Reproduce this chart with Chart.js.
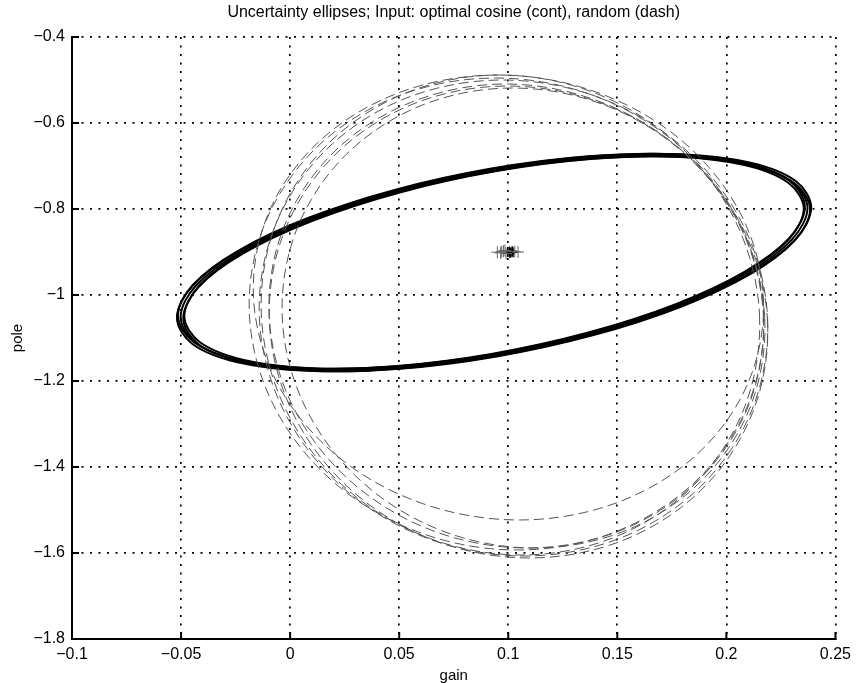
<!DOCTYPE html>
<html lang="en">
<head>
<meta charset="utf-8">
<title>Uncertainty ellipses</title>
<script src="https://cdn.jsdelivr.net/npm/chart.js@4.4.1/dist/chart.umd.min.js"></script>
<style>
    html, body { margin: 0; padding: 0; background: #fff; }
    .graph-container { position: relative; width: 857px; height: 683px; }
</style>
</head>
<body>
<div class="graph-container"><canvas id="graph-ellipses"></canvas></div>
<script>
// Graduations des axes
const xTickValues = [-0.1, -0.05, 0, 0.05, 0.1, 0.15, 0.2, 0.25];
const xTickLabels = ['\u22120.1', '\u22120.05', '0', '0.05', '0.1', '0.15', '0.2', '0.25'];
const yTickValues = [-1.8, -1.6, -1.4, -1.2, -1, -0.8, -0.6, -0.4];
const yTickLabels = ['\u22121.8', '\u22121.6', '\u22121.4', '\u22121.2', '\u22121', '\u22120.8', '\u22120.6', '\u22120.4'];

// Ellipses, entrée cosinus optimale (trait continu) : points [gain, pole]
// (courbes fermées : le dernier point rejoint le premier)
const ellipseOptimaleA = [
    [0.0935, -0.7088], [0.0491, -0.7585], [0.0091, -0.8245], [-0.0227, -0.9002], [-0.0432, -0.9784],
    [-0.0502, -1.0512], [-0.0432, -1.1116], [-0.0227, -1.1537], [0.0091, -1.1733], [0.0491, -1.1686],
    [0.0935, -1.1400], [0.1379, -1.0903], [0.1780, -1.0243], [0.2097, -0.9486], [0.2301, -0.8705],
    [0.2372, -0.7977], [0.2301, -0.7373], [0.2097, -0.6952], [0.1780, -0.6755], [0.1379, -0.6802]
];
const ellipseOptimaleB = [
    [0.0935, -0.7063], [0.0486, -0.7566], [0.0080, -0.8233], [-0.0241, -0.8999], [-0.0448, -0.9790],
    [-0.0519, -1.0527], [-0.0448, -1.1138], [-0.0241, -1.1564], [0.0080, -1.1763], [0.0486, -1.1716],
    [0.0935, -1.1426], [0.1384, -1.0923], [0.1790, -1.0255], [0.2111, -0.9489], [0.2318, -0.8698],
    [0.2389, -0.7962], [0.2318, -0.7350], [0.2111, -0.6924], [0.1790, -0.6725], [0.1384, -0.6773]
];
const ellipseOptimaleC = [
    [0.0935, -0.7114], [0.0496, -0.7605], [0.0101, -0.8257], [-0.0213, -0.9005], [-0.0415, -0.9777],
    [-0.0485, -1.0496], [-0.0415, -1.1093], [-0.0213, -1.1509], [0.0101, -1.1703], [0.0496, -1.1657],
    [0.0935, -1.1374], [0.1374, -1.0883], [0.1769, -1.0231], [0.2083, -0.9483], [0.2285, -0.8711],
    [0.2355, -0.7992], [0.2285, -0.7395], [0.2083, -0.6979], [0.1769, -0.6785], [0.1374, -0.6832]
];
const ellipseOptimaleD = [
    [0.0947, -0.7118], [0.0503, -0.7615], [0.0103, -0.8275], [-0.0215, -0.9032], [-0.0420, -0.9814],
    [-0.0490, -1.0542], [-0.0420, -1.1146], [-0.0215, -1.1567], [0.0103, -1.1763], [0.0503, -1.1716],
    [0.0947, -1.1430], [0.1391, -1.0933], [0.1792, -1.0273], [0.2109, -0.9516], [0.2313, -0.8735],
    [0.2384, -0.8007], [0.2313, -0.7403], [0.2109, -0.6982], [0.1792, -0.6785], [0.1391, -0.6832]
];
const ellipseOptimaleE = [
    [0.0923, -0.7058], [0.0479, -0.7555], [0.0079, -0.8215], [-0.0239, -0.8972], [-0.0444, -0.9754],
    [-0.0514, -1.0482], [-0.0444, -1.1086], [-0.0239, -1.1507], [0.0079, -1.1703], [0.0479, -1.1656],
    [0.0923, -1.1370], [0.1367, -1.0873], [0.1768, -1.0213], [0.2085, -0.9456], [0.2289, -0.8675],
    [0.2360, -0.7947], [0.2289, -0.7343], [0.2085, -0.6922], [0.1768, -0.6725], [0.1367, -0.6772]
];

// Ellipses, entrée aléatoire (tirets)
const ellipseAleatoire1 = [
    [0.2170, -1.0058], [0.2100, -1.2038], [0.1863, -1.3717], [0.1494, -1.4838], [0.1051, -1.5232],
    [0.0600, -1.4838], [0.0209, -1.3717], [-0.0060, -1.2038], [-0.0168, -1.0058], [-0.0098, -0.8078],
    [0.0139, -0.6399], [0.0508, -0.5278], [0.0951, -0.4884], [0.1402, -0.5278], [0.1793, -0.6399],
    [0.2062, -0.8078]
];
const ellipseAleatoire2 = [
    [0.2152, -1.0465], [0.2084, -1.2601], [0.1853, -1.4411], [0.1493, -1.5621], [0.1060, -1.6046],
    [0.0619, -1.5621], [0.0237, -1.4411], [-0.0026, -1.2601], [-0.0132, -1.0465], [-0.0064, -0.8329],
    [0.0167, -0.6519], [0.0527, -0.5309], [0.0960, -0.4884], [0.1401, -0.5309], [0.1783, -0.6519],
    [0.2046, -0.8329]
];
const ellipseAleatoire3 = [
    [0.2189, -1.0535], [0.2119, -1.2653], [0.1883, -1.4449], [0.1516, -1.5649], [0.1074, -1.6070],
    [0.0624, -1.5649], [0.0235, -1.4449], [-0.0033, -1.2653], [-0.0141, -1.0535], [-0.0071, -0.8417],
    [0.0165, -0.6621], [0.0532, -0.5421], [0.0974, -0.5000], [0.1424, -0.5421], [0.1813, -0.6621],
    [0.2081, -0.8417]
];
const ellipseAleatoire4 = [
    [0.2189, -1.0628], [0.2121, -1.2728], [0.1890, -1.4509], [0.1530, -1.5698], [0.1097, -1.6116],
    [0.0656, -1.5698], [0.0274, -1.4509], [0.0011, -1.2728], [-0.0095, -1.0628], [-0.0027, -0.8528],
    [0.0204, -0.6747], [0.0564, -0.5558], [0.0997, -0.5140], [0.1438, -0.5558], [0.1820, -0.6747],
    [0.2083, -0.8528]
];
const ellipseAleatoire5 = [
    [0.2176, -1.0535], [0.2111, -1.2582], [0.1887, -1.4317], [0.1539, -1.5477], [0.1120, -1.5884],
    [0.0693, -1.5477], [0.0323, -1.4317], [0.0067, -1.2582], [-0.0036, -1.0535], [0.0029, -0.8488],
    [0.0253, -0.6753], [0.0601, -0.5593], [0.1020, -0.5186], [0.1447, -0.5593], [0.1817, -0.6753],
    [0.2073, -0.8488]
];
const ellipseAleatoire6 = [
    [0.2171, -1.0442], [0.2100, -1.2542], [0.1861, -1.4323], [0.1489, -1.5512], [0.1042, -1.5930],
    [0.0587, -1.5512], [0.0193, -1.4323], [-0.0078, -1.2542], [-0.0187, -1.0442], [-0.0116, -0.8342],
    [0.0123, -0.6561], [0.0495, -0.5372], [0.0942, -0.4954], [0.1397, -0.5372], [0.1791, -0.6561],
    [0.2062, -0.8342]
];
const ellipseAleatoire7 = [
    [0.2170, -1.0488], [0.2103, -1.2553], [0.1873, -1.4303], [0.1517, -1.5472], [0.1087, -1.5883],
    [0.0649, -1.5472], [0.0271, -1.4303], [0.0009, -1.2553], [-0.0096, -1.0488], [-0.0029, -0.8423],
    [0.0201, -0.6673], [0.0557, -0.5514], [0.0987, -0.5093], [0.1425, -0.5514], [0.1803, -0.6673],
    [0.2065, -0.8423]
];

// Estimations (croix) autour du vrai paramètre
const estimationsOptimales = [
    [0.1005, -0.8990], [0.1012, -0.9010], [0.0998, -0.9000], [0.1018, -0.8985], [0.1008, -0.9025], [0.1022, -0.9005]
];
const estimationsAleatoires = [
    [0.0950, -0.9005], [0.0965, -0.9020], [0.0978, -0.8980], [0.0990, -0.9035],
    [0.1030, -0.8990], [0.1045, -0.9000], [0.0985, -0.8965], [0.0970, -0.8995]
];

const policeTexte = "'Liberation Sans', Arial, Helvetica, sans-serif";

// Petits traits de graduation tournés vers l'intérieur, comme dans la figure d'origine
const graduationsInterieures = {
    id: 'graduationsInterieures',
    afterDraw(chart) {
        const { ctx, chartArea, scales } = chart;
        ctx.save();
        ctx.strokeStyle = '#000';
        ctx.lineWidth = 2;
        ctx.beginPath();
        xTickValues.forEach(v => {
            const px = scales.x.getPixelForValue(v);
            ctx.moveTo(px, chartArea.bottom);
            ctx.lineTo(px, chartArea.bottom - 7);
        });
        yTickValues.forEach(v => {
            const py = scales.y.getPixelForValue(v);
            ctx.moveTo(chartArea.left, py);
            ctx.lineTo(chartArea.left + 7, py);
        });
        ctx.stroke();
        ctx.restore();
    }
};

// Ferme les ellipses (comme le radar de Chart.js) pour éviter le raccord anguleux
const fermetureCourbes = {
    id: 'fermetureCourbes',
    afterDatasetsUpdate(chart) {
        chart.data.datasets.forEach((ds, i) => {
            const ligne = chart.getDatasetMeta(i).dataset;
            if (!ds.fermee || !ligne) return;
            ligne._loop = true;
            ligne._fullLoop = true;
            ligne._pointsUpdated = false;
            delete ligne._segments;
            delete ligne._path;
            ligne.updateControlPoints(chart.chartArea, 'x');
        });
    }
};

function versPoints(liste) {
    return liste.map(p => ({ x: p[0], y: p[1] }));
}

function courbe(liste, continue_) {
    return {
        data: versPoints(liste),
        fermee: true,
        showLine: true,
        borderColor: continue_ ? '#000' : '#555',
        borderWidth: continue_ ? 2 : 1,
        borderDash: continue_ ? [] : [10, 5],
        tension: 0.34,
        pointRadius: 0,
        fill: false
    };
}

function creerGraphiqueEllipses() {
    const canvas = document.getElementById('graph-ellipses');
    if (!canvas) {
        console.error('Canvas non trouvé');
        return;
    }

    const aleatoires = [ellipseAleatoire1, ellipseAleatoire2, ellipseAleatoire3, ellipseAleatoire4,
        ellipseAleatoire5, ellipseAleatoire6, ellipseAleatoire7];
    const optimales = [ellipseOptimaleA, ellipseOptimaleB, ellipseOptimaleC, ellipseOptimaleD, ellipseOptimaleE];

    const datasets = [
        ...aleatoires.map(e => courbe(e, false)),
        ...optimales.map(e => courbe(e, true)),
        {
            data: versPoints(estimationsAleatoires),
            pointStyle: 'cross',
            pointRadius: 6,
            borderColor: '#666',
            borderWidth: 1
        },
        {
            data: versPoints(estimationsOptimales),
            pointStyle: 'cross',
            pointRadius: 5,
            borderColor: '#000',
            borderWidth: 1.5
        }
    ];

    const grille = {
        color: '#000',
        lineWidth: 1.7,
        drawTicks: false
    };
    const bordure = { display: true, color: '#000', width: 2, dash: [2, 6.5] };

    new Chart(canvas.getContext('2d'), {
        type: 'scatter',
        data: { datasets },
        plugins: [fermetureCourbes, graduationsInterieures],
        options: {
            responsive: true,
            maintainAspectRatio: false,
            animation: false,
            layout: { padding: { left: 0, right: 19, top: 0, bottom: 0 } },
            plugins: {
                legend: { display: false },
                tooltip: { enabled: false },
                title: {
                    display: true,
                    fullSize: false,
                    text: 'Uncertainty ellipses; Input: optimal cosine (cont), random (dash)',
                    color: '#000',
                    font: { family: policeTexte, size: 16, weight: 'normal' },
                    padding: { top: 3, bottom: 14.8 }
                }
            },
            scales: {
                x: {
                    type: 'linear',
                    min: -0.1,
                    max: 0.25,
                    afterBuildTicks: axis => { axis.ticks = xTickValues.map(v => ({ value: v })); },
                    afterFit: axis => { axis.height = 44; },
                    grid: grille,
                    border: bordure,
                    ticks: {
                        padding: 6,
                        color: '#000',
                        font: { family: policeTexte, size: 16 },
                        maxRotation: 0,
                        callback: (value, index) => xTickLabels[index]
                    },
                    title: {
                        display: true,
                        text: 'gain',
                        color: '#000',
                        font: { family: policeTexte, size: 15, lineHeight: 1 },
                        padding: { top: 0, bottom: 0 }
                    }
                },
                y: {
                    type: 'linear',
                    min: -1.8,
                    max: -0.4,
                    afterBuildTicks: axis => { axis.ticks = yTickValues.map(v => ({ value: v })); },
                    afterFit: axis => { axis.width = 72; },
                    grid: grille,
                    border: bordure,
                    ticks: {
                        padding: 7,
                        color: '#000',
                        font: { family: policeTexte, size: 16 },
                        callback: (value, index) => yTickLabels[index]
                    },
                    title: {
                        display: true,
                        text: 'pole',
                        color: '#000',
                        font: { family: policeTexte, size: 15, lineHeight: 1 },
                        padding: { top: 10, bottom: 0 }
                    }
                }
            }
        }
    });
}

document.addEventListener('DOMContentLoaded', () => {
    try {
        creerGraphiqueEllipses();
    } catch (error) {
        console.error('Erreur lors du tracé :', error);
    }
});
</script>
</body>
</html>
